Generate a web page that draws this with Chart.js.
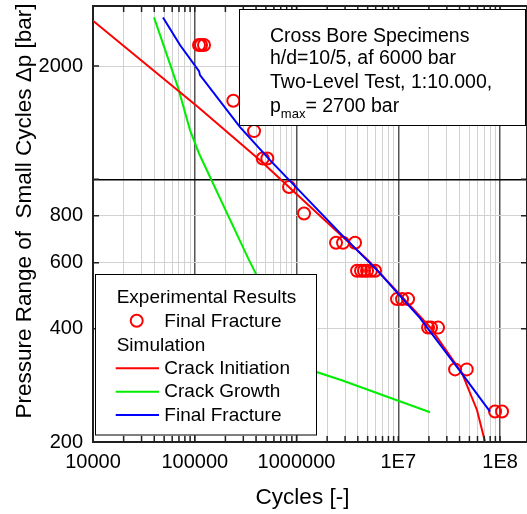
<!DOCTYPE html>
<html><head><meta charset="utf-8">
<style>html,body{margin:0;padding:0;background:#fff;overflow:hidden}#wrap{width:527px;height:514px;position:relative}</style>
<script src="https://cdn.jsdelivr.net/npm/chart.js@4.4.1/dist/chart.umd.min.js"></script>
</head><body><div id="wrap"><canvas id="c" width="527" height="514"></canvas></div>
<script>
const FONT = "'Liberation Sans', Arial, Helvetica, sans-serif";

// axis ticks
const xTickValues = [1e4, 1e5, 1e6, 1e7, 1e8];
const xTickLabels = ['10000', '100000', '1000000', '1E7', '1E8'];
const yTickValues = [200, 400, 600, 800, 1000, 2000];
const yTickLabels = ['200', '400', '600', '800', '', '2000'];
const xMin = 1e4, xMax = 1.84e8, yMin = 200, yMax = 2890;

// experimental results: final fracture
const expCycles = [110100, 115200, 123300, 239200, 382300, 465400, 516400, 843900, 1185000,
  2445000, 2864000, 3758000, 3932000, 4305000, 4607000, 4931000, 5398000, 5909000,
  9720000, 10890000, 12470000, 19610000, 20990000, 24590000, 36120000, 47070000, 89300000, 104600000];
const expPressure = [2275, 2275, 2275, 1617, 1343, 1136, 1136, 954, 811,
  678, 678, 678, 571, 571, 571, 571, 571, 571,
  480, 480, 480, 403, 403, 403, 312, 312, 241, 241];

// simulation: crack initiation
const initCycles = [10000, 107600, 437700, 5043000, 20510000, 42300000, 59430000, 71230000, 74500000];
const initPressure = [2640, 1556, 1124, 609, 404, 305, 243, 200, 184];

// simulation: crack growth
const growthCycles = [39780, 68900, 89800, 110100, 335900, 549100, 863200, 1579000, 2781000, 20510000];
const growthPressure = [2695, 1745, 1351, 1171, 615, 471, 373, 307, 292, 240];

// simulation: final fracture
const fractureCycles = [48750, 71620, 110100, 112600, 278500, 549100, 2801000, 6183000, 16360000, 38660000, 79740000];
const fracturePressure = [2695, 2275, 1940, 1892, 1376, 1124, 710, 573, 427, 314, 241];

const infoLines = ['Cross Bore Specimens', 'h/d=10/5, af 6000 bar', 'Two-Level Test, 1:10.000,'];
const pmaxParts = ['p', 'max', '= 2700 bar'];
const xTitle = 'Cycles [-]';
const yTitle = 'Pressure Range of  Small Cycles \u0394p [bar]';
const legendHeaders = ['Experimental Results', 'Simulation'];

const pts = (xs, ys) => xs.map((v, i) => ({x: v, y: ys[i]}));

// grid values for the log x axis (1..9 x decade)
const xGrid = [];
for (let k = 4; k <= 8; k++) for (let m = 1; m <= 9; m++) { const v = m * Math.pow(10, k); if (v <= xMax) xGrid.push(v); }

const isDecade = v => Math.abs(Math.log10(v) - Math.round(Math.log10(v))) < 1e-9;

const decor = {
  id: 'decor',
  afterDatasetsDraw(chart) {
    const {ctx, chartArea: a, scales: {x, y}} = chart;
    ctx.save();
    ctx.strokeStyle = '#202020';
    ctx.lineWidth = 2;
    ctx.beginPath(); ctx.moveTo(a.left, a.top); ctx.lineTo(a.right, a.top); ctx.lineTo(a.right, a.bottom); ctx.stroke();
    ctx.lineWidth = 1.5;
    x.ticks.forEach(t => {
      const px = x.getPixelForValue(t.value);
      if (px <= a.left + 1 || px >= a.right - 1) return;
      ctx.beginPath(); ctx.moveTo(px, a.bottom); ctx.lineTo(px, a.bottom - 6);
      ctx.moveTo(px, a.top); ctx.lineTo(px, a.top + 6); ctx.stroke();
    });
    y.ticks.forEach(t => {
      const py = y.getPixelForValue(t.value);
      if (py >= a.bottom - 1) return;
      ctx.beginPath(); ctx.moveTo(a.left, py); ctx.lineTo(a.left + 6, py);
      ctx.moveTo(a.right, py); ctx.lineTo(a.right - 6, py); ctx.stroke();
    });

    // info box
    ctx.fillStyle = '#fff'; ctx.strokeStyle = '#000'; ctx.lineWidth = 1;
    ctx.fillRect(239.5, 9.5, 286, 116); ctx.strokeRect(239.5, 9.5, 286, 116);
    ctx.fillStyle = '#000'; ctx.textBaseline = 'alphabetic'; ctx.textAlign = 'left';
    ctx.font = `19.5px ${FONT}`;
    const base = [41.7, 64.3, 88.3];
    infoLines.forEach((s, i) => ctx.fillText(s, 270, base[i]));
    let cx = 270;
    ctx.fillText(pmaxParts[0], cx, 111.7); cx += ctx.measureText(pmaxParts[0]).width;
    ctx.font = `13px ${FONT}`;
    ctx.fillText(pmaxParts[1], cx, 118); cx += ctx.measureText(pmaxParts[1]).width;
    ctx.font = `19.5px ${FONT}`;
    ctx.fillText(pmaxParts[2], cx, 111.7);

    // legend box
    ctx.fillStyle = '#fff';
    ctx.fillRect(95.5, 274.5, 221, 160.5); ctx.strokeRect(95.5, 274.5, 221, 160.5);
    ctx.fillStyle = '#000'; ctx.font = `19px ${FONT}`;
    const ds = chart.data.datasets;
    ctx.fillText(legendHeaders[0], 116.7, 303.3);
    ctx.strokeStyle = ds[0].borderColor; ctx.lineWidth = 2;
    ctx.beginPath(); ctx.arc(136.7, 320.7, 6, 0, Math.PI * 2); ctx.stroke();
    ctx.fillText(ds[0].label, 164.3, 326.7);
    ctx.fillText(legendHeaders[1], 116.7, 350.7);
    [1, 2, 3].forEach((di, k) => {
      const bl = 374 + k * 23.4;
      ctx.strokeStyle = ds[di].borderColor; ctx.lineWidth = 2;
      ctx.beginPath(); ctx.moveTo(115.7, bl - 5.7); ctx.lineTo(159, bl - 5.7); ctx.stroke();
      ctx.fillText(ds[di].label, 164.3, bl);
    });
    ctx.restore();
  },
  afterDraw(chart) {
    const {ctx} = chart;
    ctx.save();
    ctx.fillStyle = '#000'; ctx.font = `22.5px ${FONT}`;
    ctx.textAlign = 'center'; ctx.textBaseline = 'middle';
    ctx.fillText(xTitle, 302.5, 498);
    ctx.translate(25, 211); ctx.rotate(-Math.PI / 2);
    ctx.fillText(yTitle, 0, 0);
    ctx.restore();
  }
};

new Chart(document.getElementById('c'), {
  type: 'scatter',
  data: {
    datasets: [
      {label: 'Final Fracture', data: pts(expCycles, expPressure), borderColor: '#ff0000', backgroundColor: 'rgba(0,0,0,0)',
        pointRadius: 6, pointBorderWidth: 2, pointHoverRadius: 6, showLine: false, order: 2},
      {label: 'Crack Initiation', data: pts(initCycles, initPressure), borderColor: '#ff0000', borderWidth: 2,
        pointRadius: 0, showLine: true, order: 1},
      {label: 'Crack Growth', data: pts(growthCycles, growthPressure), borderColor: '#00ee00', borderWidth: 2,
        pointRadius: 0, showLine: true, order: 3},
      {label: 'Final Fracture', data: pts(fractureCycles, fracturePressure), borderColor: '#0000ff', borderWidth: 2,
        pointRadius: 0, showLine: true, order: 0}
    ]
  },
  options: {
    responsive: false, animation: false, devicePixelRatio: 1,
    layout: {autoPadding: false, padding: {top: 6, right: 0, bottom: 0, left: 0}},
    plugins: {legend: {display: false}, tooltip: {enabled: false}, title: {display: false}},
    events: [],
    scales: {
      x: {
        type: 'logarithmic', min: xMin, max: xMax,
        afterBuildTicks: s => { s.ticks = xGrid.map(v => ({value: v})); },
        afterFit: s => { s.height = 72; s.paddingLeft = 0; s.paddingRight = 0; },
        ticks: {autoSkip: false, maxRotation: 0, padding: 8, color: '#000', font: {family: FONT, size: 20},
          callback: v => { const i = xTickValues.indexOf(v); return i >= 0 ? xTickLabels[i] : ''; }},
        grid: {drawTicks: false,
          color: c => isDecade(c.tick.value) ? '#555555' : '#d2d2d2',
          lineWidth: c => isDecade(c.tick.value) ? 1.5 : 1},
        border: {color: '#202020', width: 2}
      },
      y: {
        type: 'logarithmic', min: yMin, max: yMax,
        afterBuildTicks: s => { s.ticks = yTickValues.map(v => ({value: v})); },
        afterFit: s => { s.width = 93; s.paddingTop = 0; s.paddingBottom = 0; },
        ticks: {autoSkip: false, padding: 10, color: '#000', font: {family: FONT, size: 20},
          callback: v => { const i = yTickValues.indexOf(v); return i >= 0 ? yTickLabels[i] : ''; }},
        grid: {drawTicks: false,
          color: c => c.tick.value === 1000 ? '#000000' : '#d2d2d2',
          lineWidth: c => c.tick.value === 1000 ? 1.5 : 1},
        border: {color: '#202020', width: 2}
      }
    }
  },
  plugins: [decor]
});
</script></body></html>
